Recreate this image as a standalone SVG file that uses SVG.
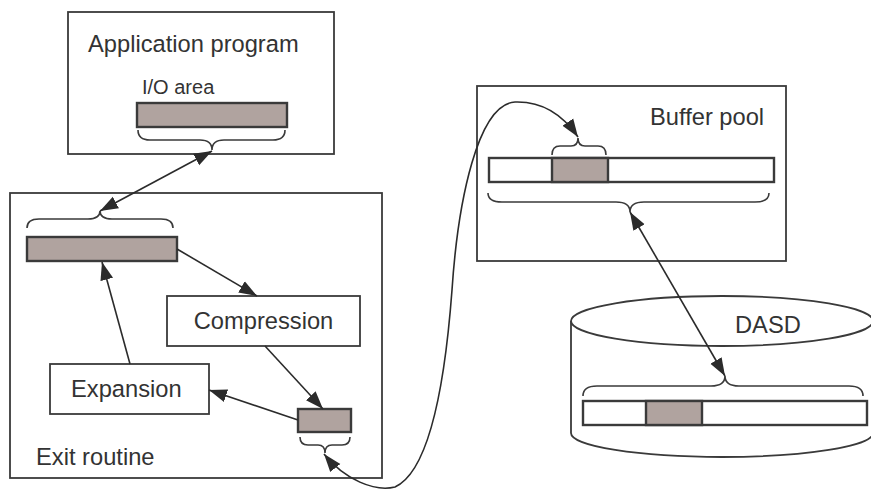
<svg xmlns="http://www.w3.org/2000/svg" width="871" height="489" viewBox="0 0 871 489">
  <style>
    .box { fill: #fff; stroke: #3a3a3a; stroke-width: 1.8; }
    .bar { fill: #fff; stroke: #3a3a3a; stroke-width: 2.4; }
    .data { fill: #b0a39f; stroke: #3a3a3a; stroke-width: 2.4; }
    .brace { fill: none; stroke: #3a3a3a; stroke-width: 1.6; }
    .link { fill: none; stroke: #2b2b2b; stroke-width: 1.6; marker-end: url(#arrow); }
    .both { marker-start: url(#arrow); }
    .label { font-family: "Liberation Sans", Arial, sans-serif; font-size: 23.7px; fill: #333; }
    .small { font-size: 20px; }
  </style>
  <defs>
    <marker id="arrow" markerUnits="userSpaceOnUse" markerWidth="20" markerHeight="16" refX="18" refY="8" orient="auto-start-reverse">
      <path d="M0 1.5 L18 8 L0 14.5 Z" fill="#2b2b2b"/>
    </marker>
  </defs>

  <!-- Application program with its I/O area -->
  <g id="application">
    <rect class="box" x="68" y="12" width="266" height="142"/>
    <text class="label" x="88" y="52">Application program</text>
    <text class="label small" x="142" y="94">I/O area</text>
    <rect class="data" x="137" y="103" width="150" height="24"/>
    <path class="brace" d="M138 130 Q138 140 150 140 L200 140 Q212 140 212 150 Q212 140 224 140 L273 140 Q285 140 285 130"/>
  </g>

  <!-- Exit routine -->
  <g id="exit-routine">
    <rect class="box" x="10" y="193" width="372" height="285"/>
    <text class="label" x="36" y="465">Exit routine</text>
    <path class="brace" d="M27 228 Q27 219 39 219 L88 219 Q100 219 100 211 Q100 219 112 219 L161 219 Q173 219 173 228"/>
    <rect class="data" x="27" y="237" width="150" height="24"/>
  </g>

  <g id="compression">
    <rect class="box" x="167" y="296" width="193" height="50"/>
    <text class="label" x="263.5" y="329" text-anchor="middle">Compression</text>
  </g>

  <g id="expansion">
    <rect class="box" x="50" y="364" width="159" height="50"/>
    <text class="label" x="71" y="397">Expansion</text>
  </g>

  <g id="compressed-record">
    <rect class="data" x="298" y="409" width="53" height="23"/>
    <path class="brace" d="M300 437 Q300 445 308 445 L318 445 Q325 445 325 453 Q325 445 332 445 L342 445 Q350 445 350 437"/>
  </g>

  <!-- Buffer pool -->
  <g id="buffer-pool">
    <rect class="box" x="477" y="86" width="309" height="175"/>
    <text class="label" x="650" y="125">Buffer pool</text>
    <path class="brace" d="M552 155 Q552 146 560 146 L571 146 Q578 146 578 138 Q578 146 585 146 L598 146 Q606 146 606 155"/>
    <rect class="bar" x="489" y="158" width="285" height="24"/>
    <rect class="data" x="552" y="158" width="56" height="24"/>
    <path class="brace" d="M488 193 Q488 202 502 202 L616 202 Q630 202 630 212 Q630 202 644 202 L755 202 Q769 202 769 193"/>
  </g>

  <!-- DASD cylinder -->
  <g id="dasd">
    <path class="box" d="M571 321 L571 433 A151 24 0 0 0 873 433 L873 321"/>
    <ellipse class="box" cx="722" cy="321" rx="151" ry="25"/>
    <text class="label" x="735" y="333">DASD</text>
    <path class="brace" d="M583 396 Q583 386 597 386 L711 386 Q725 386 725 376 Q725 386 739 386 L849 386 Q863 386 863 396"/>
    <rect class="bar" x="583" y="401" width="284" height="24"/>
    <rect class="data" x="646" y="401" width="56" height="24"/>
  </g>

  <!-- Connectors -->
  <g id="connectors">
    <line class="link both" x1="212" y1="151" x2="100" y2="211"/>
    <line class="link" x1="177" y1="249" x2="257" y2="296"/>
    <line class="link" x1="265" y1="346" x2="323" y2="409"/>
    <line class="link" x1="298" y1="420" x2="209" y2="390"/>
    <line class="link" x1="130" y1="364" x2="102" y2="262"/>
    <path class="link both" d="M578 137 C565 118 545 101 515 102 C478 104 458 200 452 290 C446 370 432 470 395 487 C375 492 345 480 324 454"/>
    <line class="link both" x1="630" y1="212" x2="725" y2="376"/>
  </g>
</svg>
